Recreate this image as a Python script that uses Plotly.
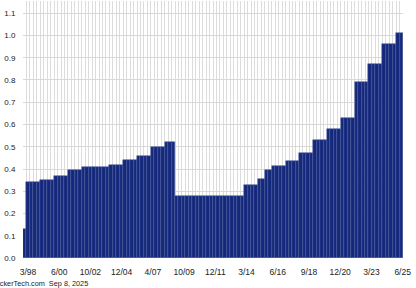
import plotly.graph_objects as go

# Quarterly dividend per share, oldest to newest
dividends = [
    0.13,
    0.34, 0.34, 0.34, 0.34,
    0.35, 0.35, 0.35, 0.35,
    0.37, 0.37, 0.37, 0.37,
    0.395, 0.395, 0.395, 0.395,
    0.41, 0.41, 0.41, 0.41, 0.41, 0.41, 0.41, 0.41,
    0.42, 0.42, 0.42, 0.42,
    0.44, 0.44, 0.44, 0.44,
    0.46, 0.46, 0.46, 0.46,
    0.50, 0.50, 0.50, 0.50,
    0.52, 0.52, 0.52,
    0.28, 0.28, 0.28, 0.28, 0.28, 0.28, 0.28, 0.28, 0.28, 0.28,
    0.28, 0.28, 0.28, 0.28, 0.28, 0.28, 0.28, 0.28, 0.28, 0.28,
    0.33, 0.33, 0.33, 0.33,
    0.355, 0.355,
    0.395, 0.395,
    0.415, 0.415, 0.415, 0.415,
    0.435, 0.435, 0.435, 0.435,
    0.47, 0.47, 0.47, 0.47,
    0.53, 0.53, 0.53, 0.53,
    0.58, 0.58, 0.58, 0.58,
    0.63, 0.63, 0.63, 0.63,
    0.79, 0.79, 0.79, 0.79,
    0.87, 0.87, 0.87, 0.87,
    0.96, 0.96, 0.96, 0.96,
    1.01, 1.01,
]
tick_labels = ["3/98", "6/00", "10/02", "12/04", "4/07", "10/09", "12/11",
               "3/14", "6/16", "9/18", "12/20", "3/23", "6/25"]
footer = "TickerTech.com\u00a0\u00a0Sep 8, 2025"

n = len(dividends)
x = list(range(n))
first_tick, last_tick = 0.95, n - 0.6
step = (last_tick - first_tick) / (len(tick_labels) - 1)
tick_vals = [first_tick + k * step for k in range(len(tick_labels))]
boundaries = [i - 0.5 for i in range(n + 1)]

FONT = "Liberation Sans, Arial, sans-serif"

fig = go.Figure(go.Bar(
    x=x, y=dividends,
    marker=dict(color="#15297c", line=dict(color="#4a5898", width=0.5)),
    hoverinfo="skip",
))

fig.update_layout(
    width=416, height=288,
    margin=dict(l=23, r=13, t=1, b=30),
    paper_bgcolor="white", plot_bgcolor="white",
    bargap=0, showlegend=False,
    font=dict(family=FONT, size=8.5, color="#222"),
    xaxis=dict(
        range=[-0.5, n - 0.5],
        tickmode="array", tickvals=tick_vals, ticktext=tick_labels,
        showgrid=False, zeroline=False, showline=False,
        ticks="outside", ticklen=6, tickcolor="rgba(0,0,0,0)",
        tickfont=dict(size=8.5),
        minor=dict(tickmode="array", tickvals=boundaries, showgrid=True,
                   gridcolor="#dcdcdc", gridwidth=1, ticks=""),
    ),
    yaxis=dict(
        range=[0, 1.155], dtick=0.1, tick0=0, tickformat=".1f",
        showgrid=True, gridcolor="#d8d8d8", gridwidth=1,
        zeroline=False, showline=False,
        ticks="outside", ticklen=5, tickcolor="rgba(0,0,0,0)",
        tickfont=dict(size=8),
    ),
    annotations=[dict(
        text=footer, xref="paper", yref="paper",
        x=(90 - 23) / 380, y=-25 / 257, xanchor="right", yanchor="middle",
        showarrow=False, font=dict(family=FONT, size=7.3, color="#222"),
    )],
)

fig.write_html("out.html")
